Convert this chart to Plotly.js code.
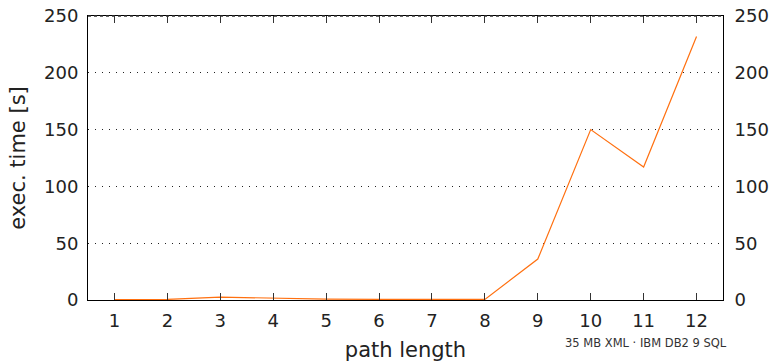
<!DOCTYPE html>
<html><head><meta charset="utf-8">
<script src="https://cdn.plot.ly/plotly-3.0.1.min.js"></script>
<style>body{margin:0;padding:0;background:#fff}#chart{width:770px;height:362px}</style>
</head><body><div id="chart"></div>
<script>
const pathLength = [1,2,3,4,5,6,7,8,9,10,11,12];
const execTime = [0.3,0.5,2.5,1.5,0.8,0.6,0.8,0.5,36,150,117,232];
const yTicks = [0,50,100,150,200,250];
const fontFam = "DejaVu Sans, sans-serif";
const trace = {x: pathLength, y: execTime, type:'scatter', mode:'lines',
  line:{color:'#ff7010', width:1.2}, showlegend:false, hoverinfo:'skip'};
const ghost = {x:[pathLength[0]], y:[execTime[0]], yaxis:'y2', type:'scatter', mode:'none', showlegend:false, hoverinfo:'skip'};
const layout = {
  width:770, height:362,
  margin:{l:88, r:47, t:16, b:62},
  paper_bgcolor:'#fff', plot_bgcolor:'#fff',
  font:{family:fontFam, size:18, color:'#222'},
  xaxis:{range:[0.5,12.5], tickvals:pathLength, ticks:'inside', ticklen:7, tickcolor:'#333', tickwidth:1,
    mirror:'ticks', showline:true, linecolor:'#000', linewidth:1, showgrid:false, zeroline:false,
    ticklabelstandoff:4,
    title:{text:'path length', font:{size:21}, standoff:12}, tickfont:{size:18}},
  yaxis:{range:[0,250], tickvals:yTicks, ticks:'', showline:true, linecolor:'#000', linewidth:1,
    showgrid:true, gridcolor:'#222', griddash:'1px,6px', gridwidth:1, zeroline:false,
    ticklabelstandoff:5,
    title:{text:'exec. time [s]', font:{size:21}, standoff:12}, tickfont:{size:18}},
  yaxis2:{range:[0,250], tickvals:yTicks, overlaying:'y', side:'right', ticks:'', showline:true,
    linecolor:'#000', linewidth:1, showgrid:false, zeroline:false, tickfont:{size:18}, ticklabelstandoff:7},
  shapes:[{type:'line', xref:'paper', yref:'paper', x0:0, x1:1, y0:1, y1:1, line:{color:'#333', width:1.5, dash:'dot'}}],
  annotations:[{text:'35 MB XML · IBM DB2 9 SQL', xref:'paper', yref:'paper', x:1.01, y:-0.12,
    xanchor:'right', yanchor:'top', showarrow:false, font:{size:11.5, color:'#333'}}]
};
Plotly.newPlot('chart',[trace, ghost],layout,{displayModeBar:false, staticPlot:true});
</script></body></html>
